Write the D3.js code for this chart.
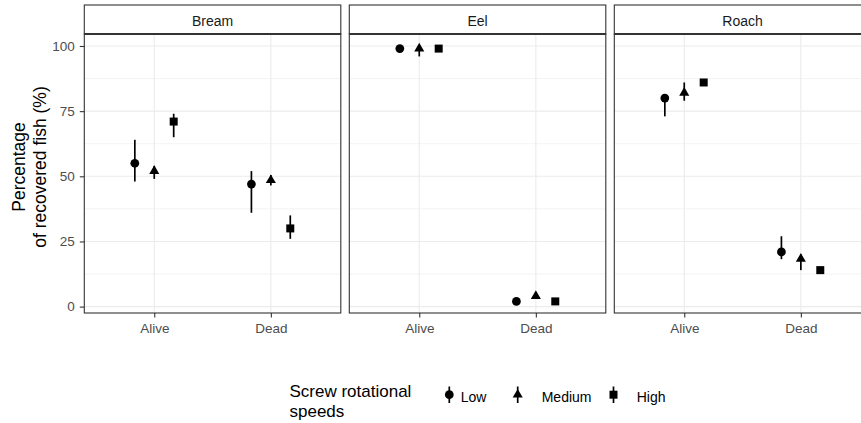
<!DOCTYPE html>
<html>
<head>
<meta charset="utf-8">
<script src="https://cdn.jsdelivr.net/npm/d3@7"></script>
<style>
  body { margin: 0; background: #fff; }
  svg { display: block; font-family: "Liberation Sans", Arial, sans-serif; }
</style>
</head>
<body>
<svg id="chart" width="861" height="423"></svg>
<script>
// ---- data ----
const species = ["Bream", "Eel", "Roach"];
const status = ["Alive", "Dead"];
const speeds = ["Low", "Medium", "High"];
const yTicks = [0, 25, 50, 75, 100];
const yMinor = [12.5, 37.5, 62.5, 87.5];

// value, lower, upper per species -> status -> speed
const breamMean  = [[55, 52, 71], [47, 48.5, 30]];
const breamLow   = [[48, 49, 65], [36, 46.5, 26]];
const breamHigh  = [[64, 54, 74], [52, 50.5, 35]];
const eelMean    = [[99, 99, 99], [2, 4, 2]];
const eelLow     = [[98.6, 96, 98.6], [1.6, 3.6, 1.6]];
const eelHigh    = [[99.4, 100, 99.4], [2.4, 4.4, 2.4]];
const roachMean  = [[80, 82, 86], [21, 18.3, 14]];
const roachLow   = [[73, 79, 84.7], [18.2, 14, 13]];
const roachHigh  = [[80.5, 86, 87.3], [27, 20, 15]];

const meanBy = [breamMean, eelMean, roachMean];
const lowBy  = [breamLow, eelLow, roachLow];
const highBy = [breamHigh, eelHigh, roachHigh];

const rows = [];
species.forEach((sp, si) => status.forEach((st, ti) => speeds.forEach((sv, vi) => {
  rows.push({sp, si, st, sv, vi, y: meanBy[si][ti][vi], lo: lowBy[si][ti][vi], hi: highBy[si][ti][vi]});
})));

// ---- layout ----
const svg = d3.select("#chart");
const panelW = 256.5, panelGap = 8.5, panelLeft = 84.3;
const panelTop = 34, panelBottom = 313, stripTop = 5;

const y = d3.scaleLinear().domain([-2.45, 104.6]).range([panelBottom, panelTop]);
const x = d3.scalePoint().domain(status).range([0, panelW]).padding(0.6);
const dodge = x.step() / 6;

const shapeOf = {Low: d3.symbolCircle, Medium: d3.symbolTriangle, High: d3.symbolSquare};
const sizeOf = {Low: 60, Medium: 44, High: 64};

species.forEach((sp, si) => {
  const g = svg.append("g").attr("transform", `translate(${panelLeft + si * (panelW + panelGap)},0)`);
  g.append("rect").attr("x", 0).attr("y", panelTop).attr("width", panelW).attr("height", panelBottom - panelTop)
    .attr("fill", "#fff");
  g.selectAll(".minor").data(yMinor).enter().append("line")
    .attr("x1", 0).attr("x2", panelW).attr("y1", d => y(d)).attr("y2", d => y(d))
    .attr("stroke", "#EBEBEB").attr("stroke-width", 0.6);
  g.selectAll(".major").data(yTicks).enter().append("line")
    .attr("x1", 0).attr("x2", panelW).attr("y1", d => y(d)).attr("y2", d => y(d))
    .attr("stroke", "#EBEBEB").attr("stroke-width", 1.1);
  g.selectAll(".vmajor").data(status).enter().append("line")
    .attr("x1", d => x(d)).attr("x2", d => x(d)).attr("y1", panelTop).attr("y2", panelBottom)
    .attr("stroke", "#EBEBEB").attr("stroke-width", 1.1);

  const pr = rows.filter(r => r.si === si);
  const px = r => x(r.st) + (r.vi - 1) * dodge;
  g.selectAll(".err").data(pr).enter().append("line")
    .attr("x1", px).attr("x2", px).attr("y1", r => y(r.lo)).attr("y2", r => y(r.hi))
    .attr("stroke", "#000").attr("stroke-width", 1.7);
  g.selectAll(".pt").data(pr).enter().append("path")
    .attr("transform", r => `translate(${px(r)},${y(r.y)})`)
    .attr("d", r => d3.symbol().type(shapeOf[r.sv]).size(sizeOf[r.sv])())
    .attr("fill", "#000");

  g.append("rect").attr("x", 0).attr("y", panelTop).attr("width", panelW).attr("height", panelBottom - panelTop)
    .attr("fill", "none").attr("stroke", "#333333").attr("stroke-width", 1.1);
  g.append("rect").attr("x", 0).attr("y", stripTop).attr("width", panelW).attr("height", panelTop - stripTop)
    .attr("fill", "#fff").attr("stroke", "#333333").attr("stroke-width", 1.1);
  g.append("line").attr("x1", 0).attr("x2", panelW).attr("y1", panelTop).attr("y2", panelTop)
    .attr("stroke", "#333333").attr("stroke-width", 2);
  g.append("text").attr("x", panelW / 2).attr("y", 25.5).attr("text-anchor", "middle")
    .attr("font-size", "14px").attr("fill", "#1A1A1A").text(sp);

  const xa = g.append("g").attr("transform", `translate(0,${panelBottom})`)
    .call(d3.axisBottom(x).tickSize(4.5).tickPadding(6));
  xa.select(".domain").remove();
  xa.selectAll(".tick line").attr("stroke", "#333333").attr("stroke-width", 1.1);
  xa.selectAll(".tick text").attr("font-size", "13.5px").attr("fill", "#4D4D4D")
    .attr("font-family", "Liberation Sans, Arial, sans-serif");

  if (si === 0) {
    const ya = g.append("g").call(d3.axisLeft(y).tickValues(yTicks).tickSize(4.5).tickPadding(5));
    ya.select(".domain").remove();
    ya.selectAll(".tick line").attr("stroke", "#333333").attr("stroke-width", 1.1);
    ya.selectAll(".tick text").attr("font-size", "13.5px").attr("fill", "#4D4D4D")
      .attr("font-family", "Liberation Sans, Arial, sans-serif");
  }
});

// y title
const yt = svg.append("text").attr("transform", "translate(0,167) rotate(-90)")
  .attr("text-anchor", "middle").attr("font-size", "17.5px").attr("fill", "#000");
yt.append("tspan").attr("x", 0).attr("y", 25).text("Percentage");
yt.append("tspan").attr("x", 0).attr("y", 45.5).text("of recovered fish (%)");

// legend
const lg = svg.append("g");
lg.append("text").attr("x", 289.5).attr("y", 396.5).attr("font-size", "17px").attr("fill", "#000")
  .text("Screw rotational");
lg.append("text").attr("x", 289.5).attr("y", 416.5).attr("font-size", "17px").attr("fill", "#000")
  .text("speeds");
const keyX = [449.3, 517.7, 613.5];
const labX = [460.7, 541.7, 636.7];
speeds.forEach((s, i) => {
  lg.append("line").attr("x1", keyX[i]).attr("x2", keyX[i]).attr("y1", 386.5).attr("y2", 403)
    .attr("stroke", "#000").attr("stroke-width", 1.7);
  lg.append("path").attr("transform", `translate(${keyX[i]},394.7)`)
    .attr("d", d3.symbol().type(shapeOf[s]).size(sizeOf[s])()).attr("fill", "#000");
  lg.append("text").attr("x", labX[i]).attr("y", 402).attr("font-size", "14px").attr("fill", "#000").text(s);
});
</script>
</body>
</html>
